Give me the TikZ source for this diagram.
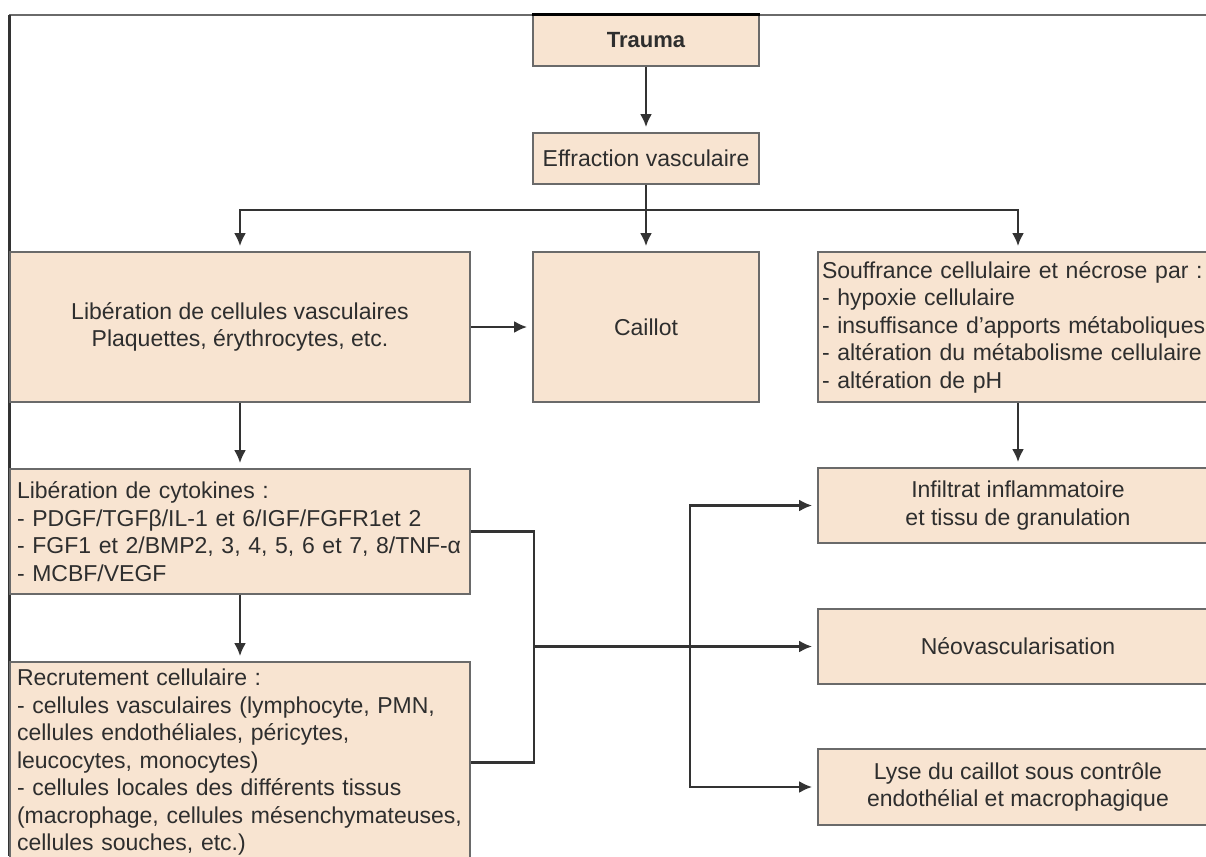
\documentclass[tikz,border=0pt]{standalone}
\usepackage{fontspec}
\setmainfont{Liberation Sans}
\usetikzlibrary{arrows.meta}
\definecolor{boxfill}{HTML}{F8E4D1}
\definecolor{boxline}{HTML}{6A6A6A}
\definecolor{txt}{HTML}{2E2E2E}
\definecolor{conn}{HTML}{333333}
\tikzset{
  box/.style={draw=boxline, fill=boxfill, line width=1.8pt, text=txt,
    font=\fontsize{23}{27.5}\selectfont, inner sep=0pt, align=center},
  lbox/.style={box, align=left},
  link/.style={draw=conn, line width=2.4pt},
  arr/.style={link, -{Latex[length=13pt,width=12pt]}, shorten >=5pt},
}
\begin{document}
\begin{tikzpicture}[x=1pt,y=-1pt]
\clip (0,0) rectangle (1206,856);
\fill[white] (0,0) rectangle (1206,856);
% frame lines
\draw[draw=boxline, line width=1.5pt] (9,15) -- (1206,15);
\draw[draw=conn, line width=3pt] (9,15) -- (9,856);

\node[box, minimum width=226pt, minimum height=51pt,
      font=\bfseries\fontsize{22}{26}\selectfont] (trauma) at (646,40.5) {Trauma};
\draw[draw=black, line width=3pt] (trauma.north west) -- (trauma.north east);
\node[box, minimum width=226pt, minimum height=51pt] (effr) at (646,158.5) {Effraction vasculaire};

\node[box, minimum width=460pt, minimum height=150pt] (lib) at (240,327)
  {Libération de cellules vasculaires\\Plaquettes, érythrocytes, etc.};
\node[box, minimum width=226pt, minimum height=150pt] (caillot) at (646,327) {Caillot};
\node[lbox, minimum width=400pt, minimum height=150pt, text width=392pt, inner xsep=4pt] (souf) at (1018,327)
  {Souffrance cellulaire et nécrose par :\\
   - hypoxie cellulaire\\
   - insuffisance d'apports métaboliques\\
   - altération du métabolisme cellulaire\\
   - altération de pH};

\node[lbox, minimum width=460pt, minimum height=125pt, text width=446pt, inner xsep=7pt] (cyto) at (240,531.5)
  {Libération de cytokines :\\
   - PDGF/TGFβ/IL-1 et 6/IGF/FGFR1et 2\\
   - FGF1 et 2/BMP2, 3, 4, 5, 6 et 7, 8/TNF-α\\
   - MCBF/VEGF};
\node[lbox, minimum width=460pt, minimum height=201pt, text width=446pt, inner xsep=7pt] (recru) at (240,762.5)
  {Recrutement cellulaire :\\
   - cellules vasculaires (lymphocyte, PMN,\\
   cellules endothéliales, péricytes,\\
   leucocytes, monocytes)\\
   - cellules locales des différents tissus\\
   (macrophage, cellules mésenchymateuses,\\
   cellules souches, etc.)};

\node[box, minimum width=400pt, minimum height=75pt] (infil) at (1018,505.5)
  {Infiltrat inflammatoire\\et tissu de granulation};
\node[box, minimum width=400pt, minimum height=75pt] (neo) at (1018,646.5) {Néovascularisation};
\node[box, minimum width=400pt, minimum height=76pt] (lyse) at (1018,787)
  {Lyse du caillot sous contrôle\\endothélial et macrophagique};

% connectors
\coordinate (br) at (646,210);
\coordinate (jv) at (534,646.5);
\coordinate (kv) at (690,646.5);

\draw[arr] (trauma) -- (effr);
\draw[arr] (effr) -- (caillot);
\draw[arr] (br) -| (lib.north);
\draw[arr] (br) -| (souf.north);
\draw[arr] (lib) -- (caillot);
\draw[arr] (lib) -- (cyto);
\draw[arr] (cyto) -- (recru);
\draw[arr] (souf) -- (infil);
\draw[link] (cyto.east) -| (jv) |- (recru.east);
\draw[arr] (jv) -- (neo.west);
\draw[arr] (kv) |- (infil.west);
\draw[arr] (kv) |- (lyse.west);
\end{tikzpicture}
\end{document}
